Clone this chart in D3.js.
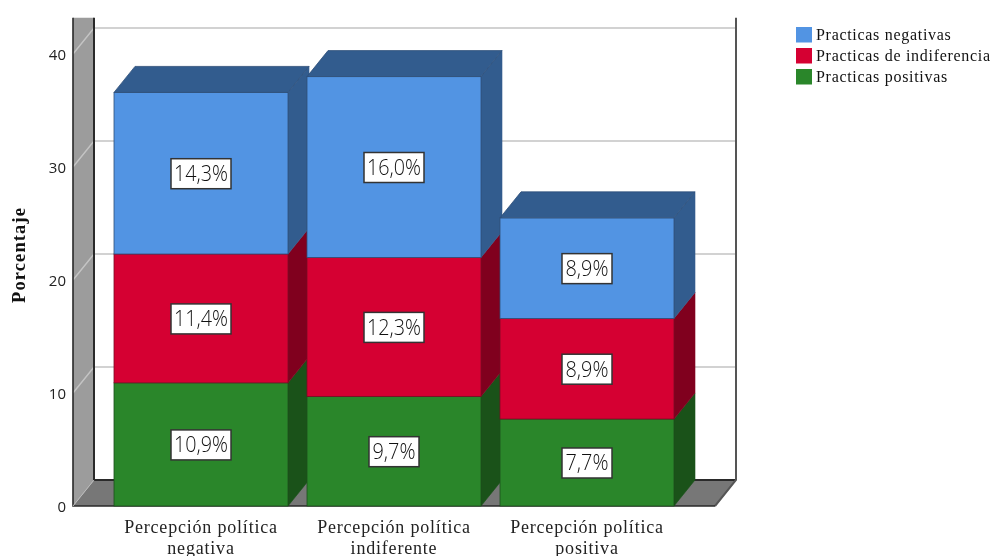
<!DOCTYPE html>
<html><head><meta charset="utf-8">
<script src="https://cdn.jsdelivr.net/npm/d3@7"></script>
<style>html,body{margin:0;padding:0;background:#fff;overflow:hidden}svg{display:block;filter:blur(0.35px)}</style></head>
<body><svg id="c" width="992" height="556"></svg>
<script>
const categories = ["Percepción política negativa","Percepción política indiferente","Percepción política positiva"];
const categoryLines = [["Percepción política","negativa"],["Percepción política","indiferente"],["Percepción política","positiva"]];
const seriesNames = ["Practicas positivas","Practicas de indiferencia","Practicas negativas"];
const positivas = [10.9,9.7,7.7];
const indiferencia = [11.4,12.3,8.9];
const negativas = [14.3,16.0,8.9];
const yTicks = [0,10,20,30,40];
const frontColors = ["#2A862A","#D50032","#5294E3"];
const sideColors = ["#1A5219","#80001E","#325C8E"];
const edgeColors = ["#1C4F1C","#7A0A24","#2F4F78"];
const legendOrder = [2,1,0];

const DX = 21, DY = -26;
const svg = d3.select("#c");
const y = d3.scaleLinear().domain([0,40]).range([506,54]);
const x = d3.scaleBand().domain(categories).range([114,674]).paddingInner(19/193).paddingOuter(0);
const fmt = v => v.toFixed(1).replace(".",",")+"%";
const SANS = "'Open Sans','DejaVu Sans',sans-serif", SERIF = "'Liberation Serif',serif";
const yTop = 43.2, left = 73, right = 715;
const line = d3.line();

// wall + floor
const g = svg.append("g");
g.append("path").attr("d",line([[left,y(yTop)],[left+DX,y(yTop)],[left+DX,y(0)+DY],[left,y(0)]])+"Z").attr("fill","#9c9c9c");
g.append("path").attr("d",line([[left,y(0)],[left+DX,y(0)+DY],[right+DX,y(0)+DY],[right,y(0)]])+"Z").attr("fill","#777");
yTicks.filter(t=>t>0).forEach(t=>{
  g.append("path").attr("d",line([[left,y(t)],[left+DX,y(t)+DY],[right+DX,y(t)+DY]])).attr("fill","none").attr("stroke","#c4c4c4").attr("stroke-width",1.4);
});
g.append("path").attr("d",line([[left+DX,y(yTop)],[left+DX,y(0)+DY],[right+DX,y(0)+DY]])).attr("fill","none").attr("stroke","#2a2a2a").attr("stroke-width",2);
g.append("path").attr("d",line([[right+DX,y(yTop)],[right+DX,y(0)+DY],[right,y(0)]])).attr("fill","none").attr("stroke","#555").attr("stroke-width",2);
g.append("path").attr("d",line([[left,y(yTop)],[left,y(0)],[right,y(0)]])).attr("fill","none").attr("stroke","#2a2a2a").attr("stroke-width",1.6);
g.append("path").attr("d",line([[left,y(0)],[left+DX,y(0)+DY]])).attr("stroke","#bbb").attr("stroke-width",1);

// axis
const ax = svg.append("g").attr("transform",`translate(${left},1)`).call(d3.axisLeft(y).tickValues(yTicks).tickSize(0).tickPadding(7));
ax.select(".domain").remove();
ax.selectAll("text").attr("font-family",SANS).attr("font-size",15).attr("fill","#222");

// bars
const layers = [positivas,indiferencia,negativas];
categories.forEach((c,i)=>{
  const x0 = x(c), x1 = x0 + x.bandwidth();
  let acc = 0;
  const bar = svg.append("g");
  layers.forEach((vals,s)=>{
    const b = y(acc), t = y(acc+vals[i]);
    acc += vals[i];
    bar.append("path").attr("d",line([[x1,b],[x1+DX,b+DY],[x1+DX,t+DY],[x1,t]])+"Z").attr("fill",sideColors[s]).attr("stroke",sideColors[s]).attr("stroke-width",.6);
    bar.append("rect").attr("x",x0).attr("y",t).attr("width",x1-x0).attr("height",b-t).attr("fill",frontColors[s]).attr("stroke",edgeColors[s]).attr("stroke-width",.8);
    if(s===2) bar.append("path").attr("d",line([[x0,t],[x0+DX,t+DY],[x1+DX,t+DY],[x1,t]])+"Z").attr("fill",sideColors[s]).attr("stroke",edgeColors[s]).attr("stroke-width",.8);
  });
});
// labels
categories.forEach((c,i)=>{
  const cx = x(c)+x.bandwidth()/2;
  let acc = 0;
  layers.forEach(vals=>{
    const cy = y(acc+vals[i]/2); acc += vals[i];
    const short = vals[i]<10;
    const w = short?50:60, h = 30;
    svg.append("rect").attr("x",cx-w/2).attr("y",cy-h/2+.5).attr("width",w).attr("height",h).attr("fill","#fff").attr("stroke","#333").attr("stroke-width",1.5);
    svg.append("text").attr("x",cx).attr("y",cy+8).attr("text-anchor","middle").attr("font-family",SANS).attr("font-weight",300).attr("font-size",22).attr("fill","#111").attr("textLength",short?43:54).attr("lengthAdjust","spacingAndGlyphs").text(fmt(vals[i]));
  });
  categoryLines[i].forEach((l,k)=>{
    svg.append("text").attr("x",cx).attr("y",533+k*20.5).attr("text-anchor","middle").attr("font-family",SERIF).attr("font-size",18).attr("letter-spacing",.8).attr("fill","#222").text(l);
  });
});
// y title
svg.append("text").attr("transform","translate(25,255) rotate(-90)").attr("text-anchor","middle").attr("font-family",SERIF).attr("font-weight","bold").attr("font-size",18.5).attr("letter-spacing",1.1).attr("fill","#111").text("Porcentaje");
// legend
legendOrder.forEach((s,k)=>{
  const ly = 27+k*21;
  svg.append("rect").attr("x",796).attr("y",ly).attr("width",16).attr("height",15.5).attr("fill",frontColors[s]);
  svg.append("text").attr("x",816).attr("y",ly+13).attr("font-family",SERIF).attr("font-size",16).attr("letter-spacing",.7).attr("fill","#111").text(seriesNames[s]);
});
</script></body></html>
